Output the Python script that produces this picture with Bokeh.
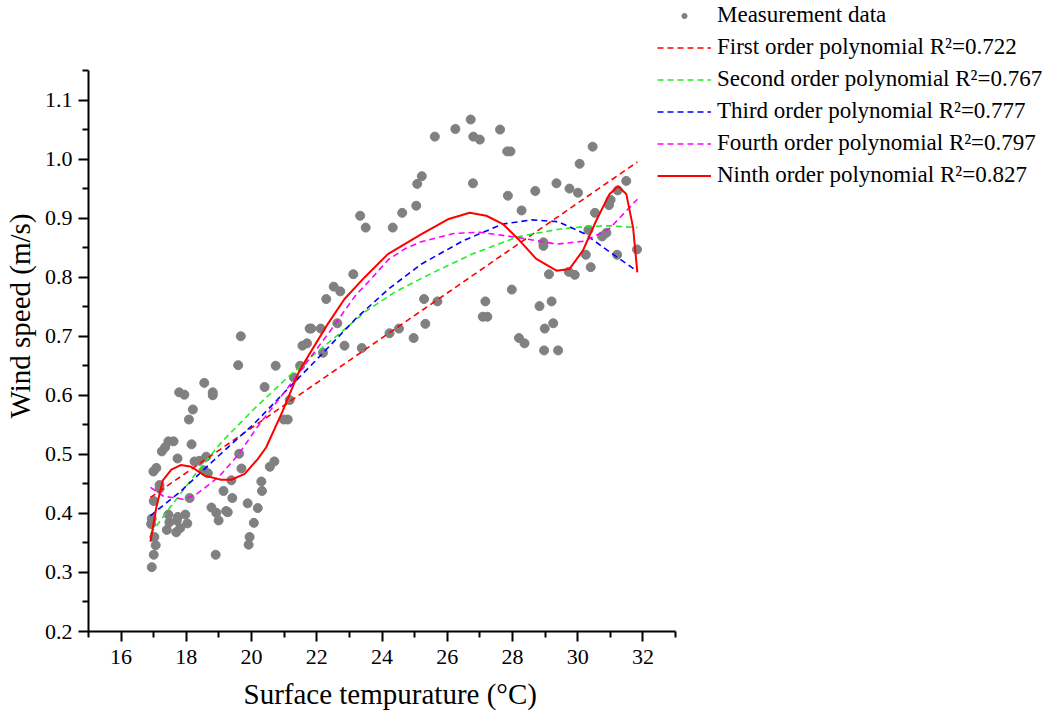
from bokeh.plotting import figure
from bokeh.models import Range1d, FixedTicker, PrintfTickFormatter, Legend, LegendItem, Title
from bokeh.embed import file_html
from bokeh.resources import INLINE

# ---------------- data ----------------
temp = [19.67, 19.59, 18.55, 17.78, 17.94, 18.81, 18.81, 18.20, 18.08, 20.40,
        17.45, 17.61, 17.25, 17.35, 18.16, 17.73, 18.25, 18.40, 18.61, 17.08,
        16.99, 18.54, 18.66, 19.62, 19.69, 17.18, 17.18, 19.38, 20.30, 20.32,
        19.14, 17.00, 18.10, 19.41, 19.88, 20.19, 18.77, 18.92, 19.22, 19.27,
        18.99, 16.94, 16.92, 17.45, 17.74, 17.97, 17.48, 17.71, 18.03, 17.40,
        17.69, 17.81, 20.07, 17.02, 17.06, 19.94, 19.91, 17.00, 18.90, 16.94,
        23.12, 22.52, 22.72, 22.29, 21.78, 21.83, 22.12, 22.63, 21.56, 21.70,
        22.85, 22.19, 23.38, 20.74, 21.49, 21.30, 21.17, 20.99, 21.11, 20.70,
        20.56,
        26.25, 25.62, 25.22, 25.08, 23.33, 23.50, 25.05, 24.62, 24.33, 25.29,
        25.70, 25.33, 24.23, 24.52, 24.97,
        26.72, 26.80, 27.00, 27.62, 27.84, 27.94, 26.79, 27.86, 28.70, 29.35,
        28.28, 28.95, 28.95, 29.12, 27.98, 27.17, 27.09, 27.23, 28.83, 29.20,
        28.99, 29.25, 28.20, 28.37, 28.97, 29.40,
        30.46, 30.06, 29.75, 30.01, 31.49, 31.23, 31.01, 30.96, 30.53, 30.33,
        30.88, 30.75, 31.82, 30.25, 31.21, 30.40, 29.73, 29.91]

wind = [0.700, 0.651, 0.621, 0.605, 0.601, 0.605, 0.600, 0.576, 0.559, 0.614,
        0.522, 0.522, 0.505, 0.512, 0.517, 0.493, 0.488, 0.489, 0.496, 0.477,
        0.471, 0.473, 0.468, 0.501, 0.476, 0.448, 0.442, 0.456, 0.454, 0.438,
        0.438, 0.421, 0.426, 0.426, 0.417, 0.409, 0.410, 0.401, 0.404, 0.402,
        0.388, 0.391, 0.382, 0.398, 0.394, 0.398, 0.385, 0.388, 0.383, 0.372,
        0.368, 0.375, 0.384, 0.360, 0.346, 0.360, 0.347, 0.330, 0.330, 0.309,
        0.805, 0.784, 0.776, 0.763, 0.713, 0.713, 0.713, 0.722, 0.684, 0.688,
        0.684, 0.672, 0.680, 0.650, 0.650, 0.630, 0.592, 0.559, 0.559, 0.488,
        0.479,
        1.051, 1.038, 0.971, 0.958, 0.904, 0.884, 0.921, 0.909, 0.884, 0.763,
        0.759, 0.721, 0.705, 0.713, 0.697,
        1.067, 1.038, 1.033, 1.050, 1.013, 1.013, 0.959, 0.938, 0.946, 0.959,
        0.913, 0.859, 0.853, 0.805, 0.779, 0.759, 0.733, 0.733, 0.751, 0.759,
        0.713, 0.722, 0.697, 0.688, 0.676, 0.676,
        1.021, 0.992, 0.950, 0.943, 0.963, 0.947, 0.931, 0.922, 0.909, 0.880,
        0.875, 0.869, 0.847, 0.838, 0.838, 0.817, 0.809, 0.804]

fit1_x = [16.9, 31.83]
fit1_y = [0.427, 0.995]

fit2_x = [16.9, 17.5, 18.3, 19.1, 20.1, 21.0, 21.8, 22.6, 23.5, 24.4, 25.5,
          26.8, 28.2, 29.5, 30.3, 31.0, 31.83]
fit2_y = [0.365, 0.410, 0.468, 0.522, 0.578, 0.625, 0.664, 0.700, 0.742, 0.775,
          0.806, 0.840, 0.869, 0.882, 0.886, 0.887, 0.884]

fit3_x = [16.9, 17.8, 19.0, 20.1, 21.06, 21.9, 23.2, 24.2, 25.2, 26.5, 27.7,
          28.6, 29.4, 30.2, 31.0, 31.83]
fit3_y = [0.396, 0.436, 0.498, 0.553, 0.608, 0.655, 0.730, 0.780, 0.822, 0.862,
          0.890, 0.897, 0.894, 0.874, 0.842, 0.810]

fit4_x = [16.9, 17.3, 17.9, 18.3, 19.0, 19.6, 20.2, 21.1, 21.75, 22.45, 23.2,
          23.6, 24.2, 24.7, 25.2, 26.2, 27.0, 28.2, 29.35, 30.2, 30.95, 31.83]
fit4_y = [0.444, 0.429, 0.424, 0.432, 0.462, 0.500, 0.548, 0.612, 0.660, 0.712,
          0.770, 0.793, 0.830, 0.848, 0.860, 0.874, 0.876, 0.867, 0.856, 0.861,
          0.881, 0.932]

fit9_x = [16.90, 17.08, 17.28, 17.54, 17.84, 18.15, 18.56, 19.07, 19.38, 19.79,
          20.19, 20.45, 20.96, 21.47, 22.03, 22.34, 22.85, 23.47, 24.18, 25.21,
          26.02, 26.69, 27.20, 27.71, 28.22, 28.73, 29.35, 29.75, 30.16, 30.57,
          30.98, 31.24, 31.49, 31.70, 31.83]
fit9_y = [0.352, 0.410, 0.456, 0.474, 0.482, 0.479, 0.464, 0.457, 0.457, 0.467,
          0.492, 0.512, 0.574, 0.642, 0.693, 0.721, 0.763, 0.800, 0.839, 0.873,
          0.898, 0.909, 0.904, 0.890, 0.862, 0.831, 0.811, 0.814, 0.845, 0.896,
          0.941, 0.954, 0.941, 0.884, 0.808]

labels = ["Measurement data",
          "First order polynomial R\u00b2=0.722",
          "Second order polynomial R\u00b2=0.767",
          "Third order polynomial R\u00b2=0.777",
          "Fourth order polynomial R\u00b2=0.797",
          "Ninth order polynomial R\u00b2=0.827"]

x_title = "Surface tempurature (\u00b0C)"
y_title = "Wind speed (m/s)"

x_ticks = [16, 18, 20, 22, 24, 26, 28, 30, 32]
x_minor = [15, 17, 19, 21, 23, 25, 27, 29, 31, 33]
y_ticks = [0.2, 0.3, 0.4, 0.5, 0.6, 0.7, 0.8, 0.9, 1.0, 1.1]
y_minor = [0.25, 0.35, 0.45, 0.55, 0.65, 0.75, 0.85, 0.95, 1.05, 1.15]
x_axis_span = (15, 33)
y_axis_span = (0.2, 1.15)

# ---------------- layout ----------------
W, H = 1049, 719
LEFT, BOTTOM = 88, 88            # frame starts at x=88, ends at y=631
PX_PER_X = 587 / 18.0            # axis 15..33 spans 587 px
PX_PER_Y = 561 / 0.95            # axis 0.2..1.15 spans 561 px
frame_w = W - LEFT
frame_h = H - BOTTOM
x_end = x_axis_span[0] + frame_w / PX_PER_X
y_end = y_axis_span[0] + frame_h / PX_PER_Y

FONT = "Liberation Serif"
p = figure(width=W, height=H, output_backend="svg", toolbar_location=None,
           x_range=Range1d(x_axis_span[0], x_end),
           y_range=Range1d(y_axis_span[0], y_end),
           min_border_left=LEFT, min_border_right=0, min_border_top=0,
           min_border_bottom=BOTTOM)
p.xgrid.visible = False
p.ygrid.visible = False
p.outline_line_color = None
p.background_fill_color = "white"
p.border_fill_color = "white"

p.xaxis.ticker = FixedTicker(ticks=x_ticks, minor_ticks=x_minor)
p.yaxis.ticker = FixedTicker(ticks=y_ticks, minor_ticks=y_minor)
p.xaxis.bounds = x_axis_span
p.yaxis.bounds = y_axis_span
p.xaxis.formatter = PrintfTickFormatter(format="%d")
p.yaxis.formatter = PrintfTickFormatter(format="%.1f")
p.yaxis.axis_label = y_title
for ax in (p.xaxis, p.yaxis):
    ax.axis_line_width = 2
    ax.axis_line_color = "black"
    ax.major_tick_line_width = 2
    ax.minor_tick_line_width = 2
    ax.major_tick_line_color = "black"
    ax.minor_tick_line_color = "black"
    ax.major_tick_in = 0
    ax.major_tick_out = 10
    ax.minor_tick_in = 0
    ax.minor_tick_out = 6
    ax.major_label_text_font = FONT
    ax.major_label_text_font_size = "22px"
    ax.major_label_text_color = "black"
    ax.axis_label_text_font = FONT
    ax.axis_label_text_font_size = "29px"
    ax.axis_label_text_font_style = "normal"
    ax.axis_label_text_color = "black"
p.xaxis.major_label_standoff = 8
p.yaxis.major_label_standoff = 6
p.yaxis.axis_label_standoff = 6

# x-axis title: placed below, left-aligned with an offset from the frame edge
xt = Title(text=x_title, align="left", offset=155, text_font=FONT,
           text_font_size="29px", text_font_style="normal", text_color="black",
           standoff=19)
p.add_layout(xt, "below")

r0 = p.scatter(temp, wind, size=9, color="#808080")
r1 = p.line(fit1_x, fit1_y, line_color="#FF0000", line_width=1.6, line_dash="6 4")
r2 = p.line(fit2_x, fit2_y, line_color="#22EE22", line_width=1.6, line_dash="6 4")
r3 = p.line(fit3_x, fit3_y, line_color="#0000FF", line_width=1.6, line_dash="6 4")
r4 = p.line(fit4_x, fit4_y, line_color="#FF00FF", line_width=1.6, line_dash="6 4")
r9 = p.line(fit9_x, fit9_y, line_color="#FF0000", line_width=2)

legend = Legend(items=[LegendItem(label=lab, renderers=[r])
                       for lab, r in zip(labels, [r0, r1, r2, r3, r4, r9])],
                location=(569, 443))
legend.label_text_font = FONT
legend.label_text_font_size = "23px"
legend.label_text_color = "black"
legend.glyph_width = 54
legend.glyph_height = 13
legend.label_height = 26
legend.spacing = 6
legend.padding = 0
legend.margin = 0
legend.label_standoff = 6
legend.border_line_alpha = 0
legend.background_fill_alpha = 0
p.add_layout(legend)

open("out.html", "w").write(file_html(p, INLINE))
